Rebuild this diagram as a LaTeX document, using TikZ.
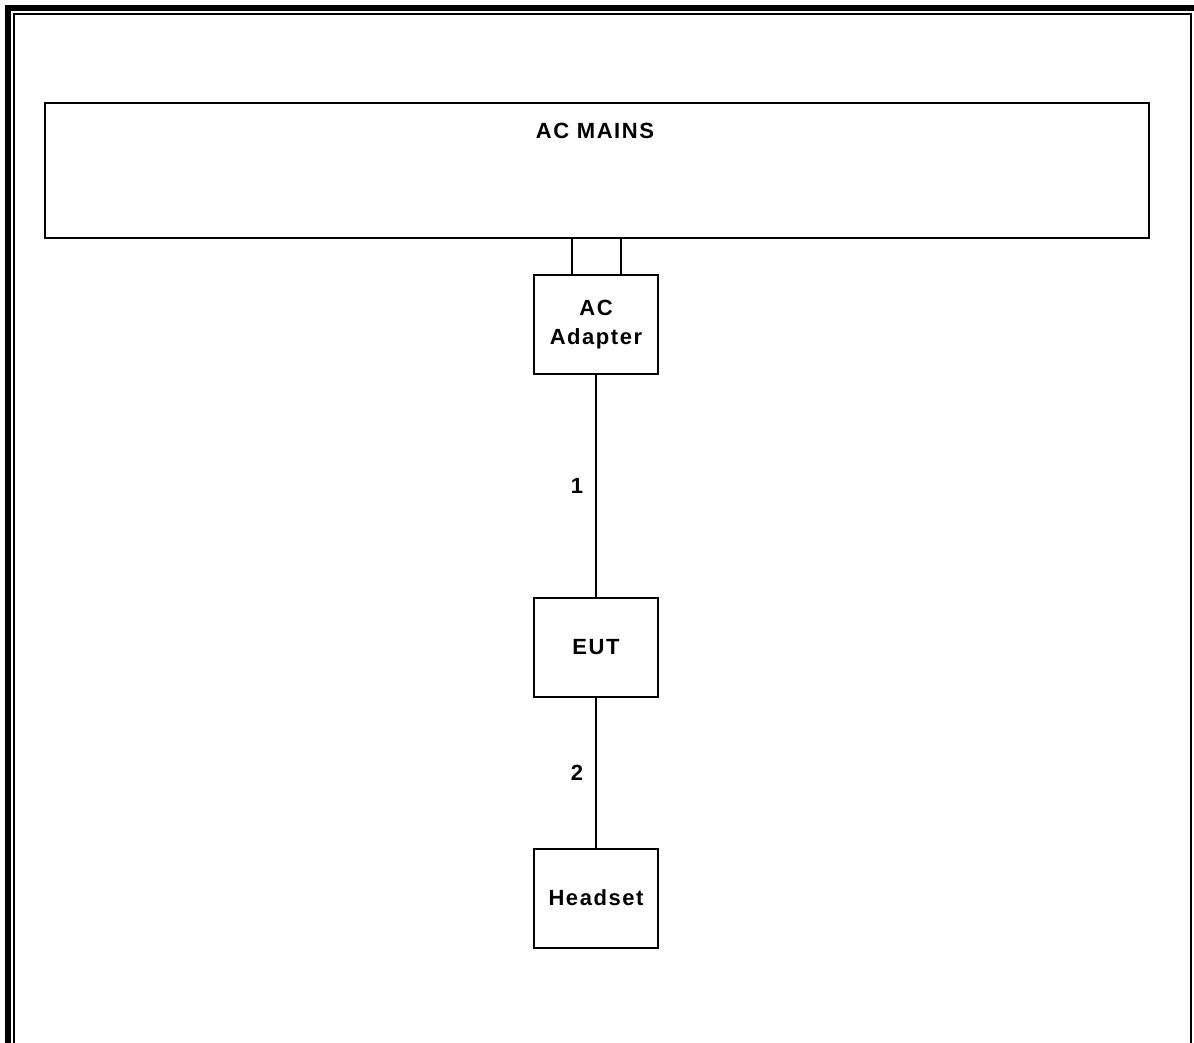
\documentclass[tikz,border=0pt]{standalone}
\usepackage{fontspec}
\setmainfont{Liberation Sans}[LetterSpace=7]
\begin{document}
\begin{tikzpicture}[x=1pt,y=-1pt,
  box/.style={draw,line width=2pt,minimum width=124pt,minimum height=99pt,inner sep=0pt,font=\bfseries\fontsize{22}{29}\selectfont,align=center},
  lbl/.style={font=\bfseries\fontsize{22}{25}\selectfont,inner sep=0pt},
  wire/.style={line width=2pt}]
\useasboundingbox (0,0) rectangle (1194,1043);
\clip (0,0) rectangle (1194,1043);
\draw[line width=6pt] (8,8) rectangle (1210,1060);
\draw[line width=2pt] (14,14) rectangle (1191,1060);
\node[draw,line width=2pt,minimum width=1104pt,minimum height=135pt,inner sep=0pt] (mains) at (597,170.5) {};
\node[lbl] (mainslbl) at (595,131) {AC MAINS};
\node[box] (adapter) at (596,324.5) {AC\\Adapter};
\node[box] (eut) at (596,647.5) {EUT};
\node[box] (headset) at (596,898) {Headset};
\coordinate (p1) at (572,238);
\coordinate (p2) at (621,238);
\draw[wire] (p1) -- (p1 |- adapter.north);
\draw[wire] (p2) -- (p2 |- adapter.north);
\draw[wire] (adapter) -- node[lbl,left=12pt] (l1) {1} (eut);
\draw[wire] (eut) -- node[lbl,left=12pt] (l2) {2} (headset);
\end{tikzpicture}
\end{document}
